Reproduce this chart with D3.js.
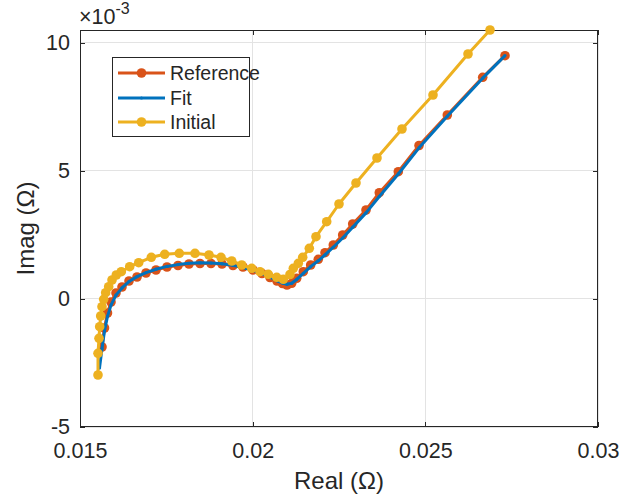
<!DOCTYPE html>
<html>
<head>
<meta charset="utf-8">
<script src="https://cdn.jsdelivr.net/npm/d3@7"></script>
<style>
html,body{margin:0;padding:0;background:#fff;}
svg{display:block;}
text{font-family:"Liberation Sans",Arial,Helvetica,sans-serif;fill:#262626;}
</style>
</head>
<body>
<svg id="chart" width="639" height="499"></svg>
<script>
// ---- data (Imag values in units of 1e-3 Ohm) ----
const refReal = [0.015637,0.015709,0.015796,0.015898,0.016042,0.016216,0.016419,0.016651,0.016911,0.017201,
  0.017519,0.017838,0.018156,0.018475,0.018793,0.019112,0.019430,0.019720,0.020010,0.020270,
  0.020502,0.020705,0.020864,0.020994,0.021130,0.021275,0.021466,0.021680,0.021900,0.022095,
  0.022335,0.022607,0.022897,0.023282,0.023667,0.024217,0.024817,0.025636,0.026661,0.027307];
const refImag = [-1.877,-1.135,-0.549,-0.120,0.232,0.466,0.700,0.856,1.013,1.130,
  1.247,1.305,1.364,1.384,1.384,1.364,1.305,1.247,1.130,0.993,
  0.837,0.700,0.603,0.544,0.610,0.806,1.063,1.325,1.547,1.805,
  2.106,2.496,2.926,3.472,4.148,4.968,5.990,7.181,8.653,9.497];

const fitReal = [0.015565,0.015637,0.015709,0.015796,0.015898,0.016042,0.016216,0.016419,0.016651,0.016911,0.017201,
  0.017519,0.017838,0.018156,0.018475,0.018793,0.019112,0.019430,0.019720,0.020010,0.020270,
  0.020502,0.020705,0.020864,0.020994,0.021130,0.021275,0.021466,0.021680,0.021900,0.022095,
  0.022335,0.022607,0.022897,0.023282,0.023667,0.024217,0.024817,0.025636,0.026661,0.027307];
const fitImag = [-2.70,-1.95,-1.25,-0.68,-0.24,0.15,0.43,0.68,0.87,1.03,1.16,
  1.27,1.34,1.39,1.41,1.40,1.37,1.31,1.23,1.12,0.99,
  0.85,0.71,0.62,0.57,0.61,0.76,1.00,1.26,1.49,1.72,
  2.02,2.38,2.80,3.36,4.00,4.88,5.90,7.13,8.62,9.50];

const initReal = [0.015521,0.015521,0.015550,0.015570,0.015599,0.015637,0.015686,0.015744,0.015831,0.015927,
  0.016051,0.016196,0.016439,0.016700,0.017065,0.017453,0.017875,0.018330,0.018735,0.019083,
  0.019393,0.019682,0.019972,0.020212,0.020453,0.020696,0.020887,0.021081,0.021177,0.021322,
  0.021449,0.021640,0.021834,0.022144,0.022500,0.022992,0.023600,0.024324,0.025222,0.026236,0.026873];
const initImag = [-2.970,-2.123,-1.537,-1.084,-0.666,-0.303,-0.014,0.243,0.478,0.739,
  0.934,1.063,1.258,1.415,1.625,1.743,1.782,1.782,1.715,1.625,
  1.481,1.325,1.196,1.063,0.962,0.845,0.767,0.954,1.196,1.391,
  1.625,1.977,2.430,3.015,3.707,4.526,5.502,6.635,7.962,9.563,10.500];

const xTicks = [0.015,0.02,0.025,0.03];
const xTickLabels = ["0.015","0.02","0.025","0.03"];
const yTicks = [-5,0,5,10];
const yTickLabels = ["-5","0","5","10"];
const seriesNames = ["Reference","Fit","Initial"];
const seriesColors = ["#D95319","#0072BD","#EDB120"];

// ---- layout ----
const L = 80, R = 598, T = 30, B = 427;
const svg = d3.select("#chart");
const x = d3.scaleLinear().domain([0.015,0.03]).range([L,R]);
const y = d3.scaleLinear().domain([-5,10.5]).range([B,T]);

// grid
const g = svg.append("g");
g.selectAll("line.gx").data(xTicks).join("line")
  .attr("x1",d=>x(d)).attr("x2",d=>x(d)).attr("y1",T).attr("y2",B)
  .attr("stroke","#e3e3e3").attr("stroke-width",1).attr("shape-rendering","crispEdges");
g.selectAll("line.gy").data(yTicks).join("line")
  .attr("y1",d=>y(d)).attr("y2",d=>y(d)).attr("x1",L).attr("x2",R)
  .attr("stroke","#e3e3e3").attr("stroke-width",1).attr("shape-rendering","crispEdges");

// axes with inward ticks on all four sides
const tl = 5;
const axB = d3.axisBottom(x).tickValues(xTicks).tickSize(-tl).tickFormat((d,i)=>xTickLabels[i]).tickPadding(16);
const axT = d3.axisTop(x).tickValues(xTicks).tickSize(-tl).tickFormat("");
const axLft = d3.axisLeft(y).tickValues(yTicks).tickSize(-tl).tickFormat((d,i)=>yTickLabels[i]).tickPadding(10);
const axRt = d3.axisRight(y).tickValues(yTicks).tickSize(-tl).tickFormat("");
function style(sel){
  sel.selectAll("path").attr("stroke","#262626").attr("stroke-width",1).attr("shape-rendering","crispEdges");
  sel.selectAll("line").attr("stroke","#262626").attr("stroke-width",1).attr("shape-rendering","crispEdges");
  sel.selectAll("text").attr("fill","#262626").style("font-size","21.5px").style("font-family","'Liberation Sans',Arial,sans-serif");
}
svg.append("g").attr("transform",`translate(0,${B})`).call(axB).call(style);
svg.append("g").attr("transform",`translate(0,${T})`).call(axT).call(style);
svg.append("g").attr("transform",`translate(${L},0)`).call(axLft).call(style);
svg.append("g").attr("transform",`translate(${R},0)`).call(axRt).call(style);
svg.selectAll(".domain").attr("d",null);
svg.append("rect").attr("x",L+0.5).attr("y",T+0.5).attr("width",R-L-1).attr("height",B-T-1)
  .attr("fill","none").attr("stroke","#262626").attr("stroke-width",1);

// exponent label
const ex = svg.append("text").attr("x",79).attr("y",24).style("font-size","21.5px");
ex.append("tspan").text("\u00D710");
ex.append("tspan").attr("dy",-10).style("font-size","16px").text("-3");

// axis labels
svg.append("text").attr("x",(L+R)/2).attr("y",489).attr("text-anchor","middle")
  .style("font-size","24px").text("Real (\u03A9)");
svg.append("text").attr("transform",`translate(34,${(T+B)/2}) rotate(-90)`).attr("text-anchor","middle")
  .style("font-size","24px").text("Imag (\u03A9)");

// series
const line = d3.line().x(d=>x(d[0])).y(d=>y(d[1]));
const series = [
  {pts: d3.zip(refReal, refImag), color: seriesColors[0], r: 4.8},
  {pts: d3.zip(fitReal, fitImag), color: seriesColors[1], r: 1.6},
  {pts: d3.zip(initReal, initImag), color: seriesColors[2], r: 4.8}
];
series.forEach(s=>{
  svg.append("path").datum(s.pts).attr("d",line).attr("fill","none")
    .attr("stroke",s.color).attr("stroke-width",3).attr("stroke-linejoin","round");
  svg.append("g").selectAll("circle").data(s.pts).join("circle")
    .attr("cx",d=>x(d[0])).attr("cy",d=>y(d[1])).attr("r",s.r).attr("fill",s.color);
});

// legend
const lg = svg.append("g");
lg.append("rect").attr("x",112.5).attr("y",57.5).attr("width",137).attr("height",79)
  .attr("fill","#fff").attr("stroke","#262626").attr("stroke-width",1);
const rowsY = [73,98,122];
seriesNames.forEach((n,i)=>{
  lg.append("line").attr("x1",118).attr("x2",165).attr("y1",rowsY[i]).attr("y2",rowsY[i])
    .attr("stroke",seriesColors[i]).attr("stroke-width",3);
  lg.append("circle").attr("cx",141.5).attr("cy",rowsY[i]).attr("r",i===1?1.6:4.8).attr("fill",seriesColors[i]);
  lg.append("text").attr("x",170).attr("y",rowsY[i]).attr("dy","0.35em").style("font-size","19.5px").text(n);
});
</script>
</body>
</html>
